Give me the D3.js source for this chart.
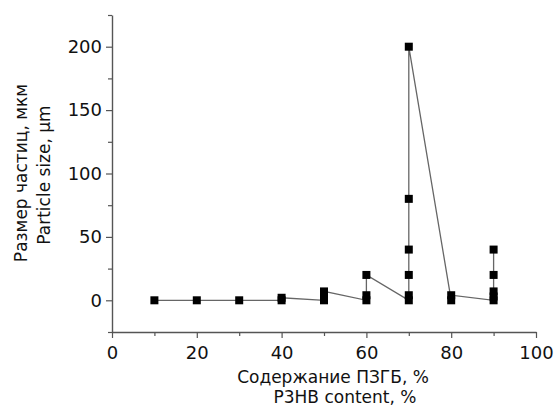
<!DOCTYPE html>
<html><head><meta charset="utf-8">
<script src="https://cdn.jsdelivr.net/npm/d3@7"></script>
<style>
html,body{margin:0;padding:0;background:#fff;}
svg{display:block;}
</style></head>
<body>
<svg id="chart" width="559" height="412"></svg>
<script>
// Sequence of measured points (x: P3HB content %, y: particle size µm), in drawing order
const contentPct = [10,20,30,40,40,50,50,50,60,60,60,70,70,70,70,70,70,80,80,90,90,90,90,90];
const particleSize = [0,0,0,0,2,0,3,7,0,4,20,0,4,20,40,80,200,0,4,0,3,7,20,40];
const xTicks = [0,20,40,60,80,100];
const yTicks = [0,50,100,150,200];
const yLabelLines = ["Размер частиц, мкм","Particle size, µm"];
const xLabelLines = ["Содержание ПЗГБ, %","P3HB content, %"];

const data = contentPct.map((x,i)=>({x, y: particleSize[i]}));
const svg = d3.select("#chart");
const x = d3.scaleLinear().domain([0,100]).range([112,536]);
const y = d3.scaleLinear().domain([-25,225]).range([332,15]);
const axisColor = "#555";
const font = "'DejaVu Sans', 'Liberation Sans', sans-serif";

// x axis
const gx = svg.append("g").attr("transform",`translate(0,${y(-25)})`);
gx.call(d3.axisBottom(x).tickValues(d3.range(10,100,20)).tickSize(4).tickFormat(""));
gx.selectAll(".tick line").attr("stroke",axisColor).attr("stroke-width",1.2);
gx.select(".domain").remove();
const gx2 = svg.append("g").attr("transform",`translate(0,${y(-25)})`);
gx2.call(d3.axisBottom(x).tickValues(xTicks).tickSize(6).tickSizeOuter(0).tickPadding(8));
gx2.attr("font-family", font).attr("font-size", 18);
gx2.select(".domain").attr("stroke",axisColor).attr("stroke-width",1.4);
gx2.selectAll(".tick line").attr("stroke",axisColor).attr("stroke-width",1.2);
gx2.selectAll(".tick text").attr("fill","#111");

// y axis
const gy = svg.append("g").attr("transform",`translate(${x(0)},0)`);
gy.call(d3.axisLeft(y).tickValues([-25,25,75,125,175,225]).tickSize(4).tickFormat(""));
gy.selectAll(".tick line").attr("stroke",axisColor).attr("stroke-width",1.2);
gy.select(".domain").remove();
const gy2 = svg.append("g").attr("transform",`translate(${x(0)},0)`);
gy2.call(d3.axisLeft(y).tickValues(yTicks).tickSize(6).tickSizeOuter(0).tickPadding(4));
gy2.attr("font-family", font).attr("font-size", 18);
gy2.select(".domain").attr("stroke",axisColor).attr("stroke-width",1.4);
gy2.selectAll(".tick line").attr("stroke",axisColor).attr("stroke-width",1.2);
gy2.selectAll(".tick text").attr("fill","#111");

// connecting line
svg.append("path").datum(data)
  .attr("fill","none").attr("stroke","#666").attr("stroke-width",1.3)
  .attr("d", d3.line().x(d=>x(d.x)).y(d=>y(d.y)));

// square markers
const s = 8;
svg.append("g").selectAll("rect").data(data).join("rect")
  .attr("x", d=>x(d.x)-s/2).attr("y", d=>y(d.y)-s/2)
  .attr("width", s).attr("height", s).attr("fill","#000");

// axis titles
const titles = svg.append("g").attr("font-family", font).attr("font-size", 17).attr("fill","#111");
titles.append("text").attr("x",333).attr("y",383).attr("text-anchor","middle").text(xLabelLines[0]);
titles.append("text").attr("x",345).attr("y",403).attr("text-anchor","middle").text(xLabelLines[1]);
titles.append("text").attr("transform","translate(27,173) rotate(-90)").attr("text-anchor","middle").text(yLabelLines[0]);
titles.append("text").attr("transform","translate(50,175) rotate(-90)").attr("text-anchor","middle").text(yLabelLines[1]);
</script>
</body></html>
